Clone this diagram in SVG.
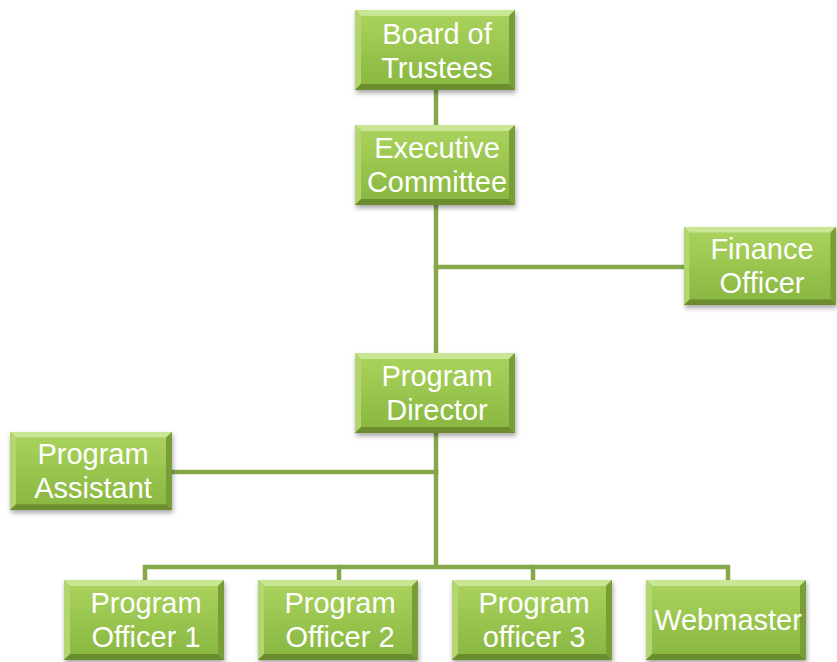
<svg xmlns="http://www.w3.org/2000/svg" xmlns:xlink="http://www.w3.org/1999/xlink" width="837" height="662" viewBox="0 0 837 662">
<style>
.conn{stroke:#86a84b;stroke-width:4.5;fill:none;stroke-linecap:square}
.lbl{font-family:"Liberation Sans",Arial,sans-serif;font-size:29px;fill:#ffffff;text-anchor:middle}
</style>
<defs>
<linearGradient id="face" x1="0" y1="0" x2="0" y2="1">
<stop offset="0" stop-color="#a9d25c"/>
<stop offset="1" stop-color="#8ab842"/>
</linearGradient>
<filter id="sh" x="-10%" y="-10%" width="125%" height="135%">
<feDropShadow dx="1" dy="3" stdDeviation="2.5" flood-color="#000" flood-opacity="0.35"/>
</filter>
<g id="box">
<rect x="0" y="0" width="160" height="80" fill="#8fba48" filter="url(#sh)"/>
<polygon points="0,0 160,0 154,6 6,6" fill="#c8e693"/>
<polygon points="0,0 6,6 6,74 0,80" fill="#b3d671"/>
<polygon points="160,0 160,80 154,74 154,6" fill="#7a9e37"/>
<polygon points="0,80 6,74 154,74 160,80" fill="#6b8d2e"/>
<rect x="6" y="6" width="148" height="68" fill="url(#face)"/>
</g>
</defs>
<g id="connectors">
<line class="conn" x1="436" y1="90" x2="436" y2="125"/>
<line class="conn" x1="436" y1="205" x2="436" y2="353"/>
<line class="conn" x1="436" y1="267" x2="684" y2="267"/>
<line class="conn" x1="436" y1="432" x2="436" y2="566"/>
<line class="conn" x1="172" y1="472" x2="436" y2="472"/>
<polyline class="conn" points="145,580 145,567 728,567 728,580"/>
<line class="conn" x1="339" y1="567" x2="339" y2="580"/>
<line class="conn" x1="533" y1="567" x2="533" y2="580"/>
</g>
<g id="board">
<use xlink:href="#box" x="355" y="10"/>
<text class="lbl" x="437" y="44">Board of</text>
<text class="lbl" x="437" y="78">Trustees</text>
</g>
<g id="executive">
<use xlink:href="#box" x="355" y="125"/>
<text class="lbl" x="437" y="158">Executive</text>
<text class="lbl" x="437" y="192">Committee</text>
</g>
<g id="finance">
<use xlink:href="#box" transform="translate(684,227) scale(0.95,0.975)"/>
<text class="lbl" x="762" y="259">Finance</text>
<text class="lbl" x="762" y="293">Officer</text>
</g>
<g id="director">
<use xlink:href="#box" x="355" y="353"/>
<text class="lbl" x="437" y="386">Program</text>
<text class="lbl" x="437" y="420">Director</text>
</g>
<g id="assistant">
<use xlink:href="#box" transform="translate(10,432) scale(1.0125,0.975)"/>
<text class="lbl" x="93" y="464">Program</text>
<text class="lbl" x="93" y="498">Assistant</text>
</g>
<g id="officer1">
<use xlink:href="#box" x="64" y="580"/>
<text class="lbl" x="146" y="613">Program</text>
<text class="lbl" x="146" y="647">Officer 1</text>
</g>
<g id="officer2">
<use xlink:href="#box" x="258" y="580"/>
<text class="lbl" x="340" y="613">Program</text>
<text class="lbl" x="340" y="647">Officer 2</text>
</g>
<g id="officer3">
<use xlink:href="#box" x="452" y="580"/>
<text class="lbl" x="534" y="613">Program</text>
<text class="lbl" x="534" y="647">officer 3</text>
</g>
<g id="webmaster">
<use xlink:href="#box" x="646" y="580"/>
<text class="lbl" x="728" y="630">Webmaster</text>
</g>
</svg>
